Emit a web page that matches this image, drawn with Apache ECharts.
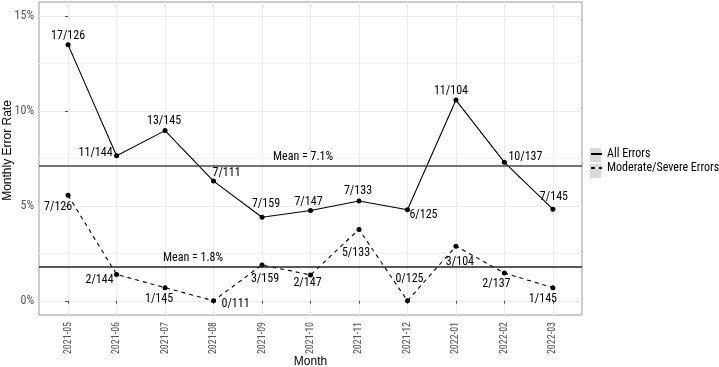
<!DOCTYPE html>
<html>
<head>
<meta charset="utf-8">
<script src="https://cdn.jsdelivr.net/npm/echarts@6/dist/echarts.min.js"></script>
<style>
  html, body { margin: 0; padding: 0; background: #fff; }
  #main { width: 719px; height: 367px; }
</style>
</head>
<body>
<div id="main"></div>
<script>
// data
var months = ['2021-05', '2021-06', '2021-07', '2021-08', '2021-09', '2021-10', '2021-11', '2021-12', '2022-01', '2022-02', '2022-03'];
var allRate = [13.49, 7.64, 8.97, 6.31, 4.40, 4.76, 5.26, 4.80, 10.58, 7.30, 4.83];
var allLabel = ['17/126', '11/144', '13/145', '7/111', '7/159', '7/147', '7/133', '6/125', '11/104', '10/137', '7/145'];
var modRate = [5.56, 1.39, 0.69, 0.00, 1.89, 1.36, 3.76, 0.00, 2.88, 1.46, 0.69];
var modLabel = ['7/126', '2/144', '1/145', '0/111', '3/159', '2/147', '5/133', '0/125', '3/104', '2/137', '1/145'];
var allMean = 7.12;
var modMean = 1.79;
var yTicks = [0, 5, 10, 15];
var yMinor = [2.5, 7.5, 12.5];

// label nudges (px) so the text sits where the original put it
var allNudge = [[0, -9], [-21, -3], [-1, -10], [13, -8], [4, -13], [-2, -8], [-1, -10], [16, 5], [-5, -9], [21, -5], [1, -12]];
var modNudge = [[-10, 12], [-17, 6], [-6, 11], [22, 3], [3, 14], [-3, 8], [-3, 24], [2, -22], [4, 16], [-8, 11], [-10, 11]];

var FONT = '"Liberation Sans Narrow", "Roboto Condensed", Roboto, sans-serif';
var TITLE_FONT = '"Liberation Sans", Arial, sans-serif';
var xTicks = months.map(function (m, i) { return i; });

function points(rate, label, nudge) {
  return rate.map(function (v, i) {
    return {
      value: [i, v],
      name: label[i],
      label: { offset: nudge[i] }
    };
  });
}

var myChart = echarts.init(document.getElementById('main'));

myChart.setOption({
  animation: false,
  backgroundColor: '#fff',
  grid: {
    left: 39, right: 137, top: 2, bottom: 52,
    outerBoundsMode: 'none',
    show: true, borderColor: '#999', borderWidth: 1, backgroundColor: '#fff'
  },
  legend: {
    orient: 'vertical',
    left: 590, top: 148,
    padding: 0,
    itemWidth: 11, itemHeight: 14, itemGap: 2,
    textStyle: { fontFamily: FONT, fontSize: 12, color: '#000' },
    data: [
      { name: 'All Errors', itemStyle: { opacity: 0 } },
      { name: 'Moderate/Severe Errors', itemStyle: { opacity: 0 } }
    ]
  },
  graphic: [
    { type: 'rect', left: 590, top: 148, z: -1, shape: { width: 11, height: 14 }, style: { fill: '#d9d9d9' } },
    { type: 'rect', left: 590, top: 164, z: -1, shape: { width: 11, height: 14 }, style: { fill: '#d9d9d9' } }
  ],
  xAxis: {
    type: 'value',
    min: -0.6, max: 10.6,
    name: 'Month',
    nameLocation: 'middle',
    nameGap: 41,
    nameMoveOverlap: false,
    nameTextStyle: { fontFamily: TITLE_FONT, fontSize: 12, color: '#000' },
    axisLine: { show: false },
    axisTick: { show: true, customValues: xTicks, length: 3, lineStyle: { color: '#555' } },
    axisLabel: {
      customValues: xTicks,
      rotate: 90,
      margin: 7,
      color: '#555',
      fontFamily: FONT,
      fontSize: 10,
      formatter: function (v) { return months[v]; }
    },
    splitLine: { show: true, lineStyle: { color: '#ebebeb', width: 1 } }
  },
  yAxis: [
    {
      type: 'value',
      min: -0.75, max: 15.75,
      name: 'Monthly Error Rate',
      nameLocation: 'middle',
      nameGap: 25,
      nameMoveOverlap: false,
      nameTextStyle: { fontFamily: TITLE_FONT, fontSize: 12, color: '#000', padding: [0, 0, 0, 16] },
      axisLine: { show: false },
      axisTick: { show: true, customValues: yTicks, length: 3, lineStyle: { color: '#555' } },
      axisLabel: {
        customValues: yTicks,
        margin: 5,
        color: '#555',
        fontFamily: FONT,
        fontSize: 12,
        formatter: '{value}%'
      },
      splitLine: { show: true, lineStyle: { color: '#ebebeb', width: 1 } }
    },
    {
      type: 'value',
      min: -0.75, max: 15.75,
      position: 'left',
      axisLine: { show: false },
      axisTick: { show: false, customValues: yMinor },
      axisLabel: { show: false, customValues: yMinor },
      splitLine: { show: true, lineStyle: { color: '#f4f4f4', width: 1 } }
    }
  ],
  series: [
    {
      name: 'All Errors',
      type: 'line',
      data: points(allRate, allLabel, allNudge),
      symbol: 'circle',
      symbolSize: 5,
      itemStyle: { color: '#000' },
      lineStyle: { color: '#000', width: 1.1, type: 'solid' },
      label: {
        show: true,
        position: 'inside',
        color: '#000',
        fontFamily: FONT,
        fontSize: 12,
        formatter: '{b}'
      },
      markLine: {
        silent: true,
        symbol: 'none',
        lineStyle: { color: '#444', width: 1.5, type: 'solid' },
        label: {
          position: 'insideStartTop',
          distance: [234, 3],
          color: '#000',
          fontFamily: FONT,
          fontSize: 12,
          formatter: 'Mean = ' + allMean.toFixed(1) + '%'
        },
        data: [{ yAxis: allMean }]
      },
      z: 3
    },
    {
      name: 'Moderate/Severe Errors',
      type: 'line',
      data: points(modRate, modLabel, modNudge),
      symbol: 'circle',
      symbolSize: 5,
      itemStyle: { color: '#000' },
      lineStyle: { color: '#000', width: 1.1, type: [4, 4] },
      label: {
        show: true,
        position: 'inside',
        color: '#000',
        fontFamily: FONT,
        fontSize: 12,
        formatter: '{b}'
      },
      markLine: {
        silent: true,
        symbol: 'none',
        lineStyle: { color: '#222', width: 1.5, type: 'solid' },
        label: {
          position: 'insideStartTop',
          distance: [124, 3],
          color: '#000',
          fontFamily: FONT,
          fontSize: 12,
          formatter: 'Mean = ' + modMean.toFixed(1) + '%'
        },
        data: [{ yAxis: modMean }]
      },
      z: 3
    }
  ]
});
</script>
</body>
</html>
